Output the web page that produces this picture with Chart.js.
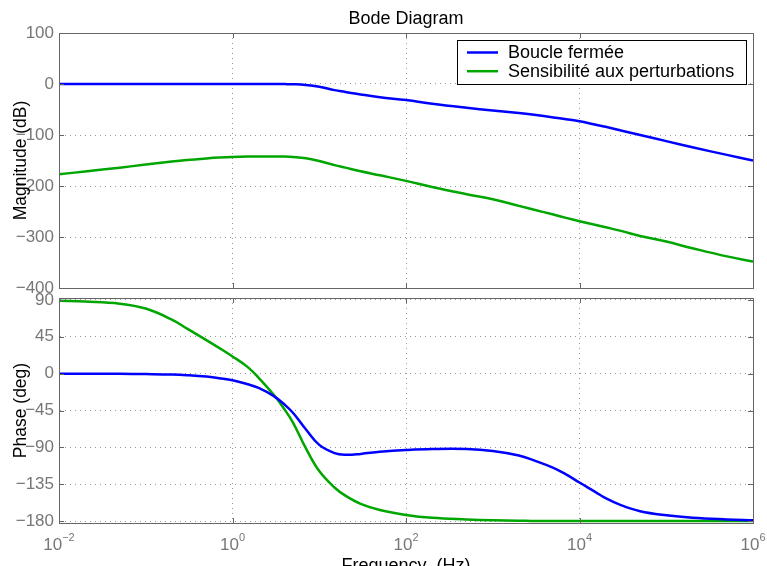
<!DOCTYPE html>
<html>
<head>
<meta charset="utf-8">
<script src="https://cdn.jsdelivr.net/npm/chart.js@4.4.0/dist/chart.umd.min.js"></script>
<style>
  body { margin: 0; background: #fff; }
  #wrap { position: relative; width: 767px; height: 566px; overflow: hidden; }
  canvas { position: absolute; left: 0; top: 0; }
</style>
</head>
<body>
<div id="wrap">
  <canvas id="magChart" width="767" height="566"></canvas>
  <canvas id="phaseChart" width="767" height="566"></canvas>
</div>
<script>
const freq = [0.01, 0.02, 0.05, 0.1, 0.2, 0.3, 0.5, 0.7, 1, 1.5, 2, 3, 4, 5, 7, 10, 15, 20, 30, 50,
  100, 200, 500, 1000, 2000, 3000, 5000, 7000, 1e4, 1.5e4, 2e4, 3e4, 5e4, 1e5, 2e5, 5e5, 1e6];
const magBoucle = [0, 0, 0, 0, 0, 0, 0, 0, 0, 0, 0, 0, -0.2, -0.5, -2, -5.5, -12, -15.5, -20.5, -26,
  -31.4, -38.5, -46.5, -52, -57, -60.5, -65.5, -69, -73, -79.5, -84, -91, -100, -112, -124, -139, -150];
const magSensib = [-177, -171.5, -164, -158, -152, -149, -146, -144.3, -143, -142.2, -142, -142, -142.2, -143, -145.5, -151, -159, -164, -171, -179,
  -190, -202, -216, -226, -239, -246.5, -256, -262.5, -269, -276, -281, -288, -298, -309, -322, -338, -348];
const phaseBoucle = [0, 0, -0.2, -0.5, -1, -1.8, -3.5, -5.5, -8, -13, -17.5, -27.5, -38, -48, -68, -87, -97, -99, -98, -95.5,
  -93.3, -92, -92, -94.5, -100, -106, -115, -123, -133, -144, -152, -160.5, -168, -173, -176, -178, -179];
const phaseSensib = [89, 88, 85.5, 79.5, 66, 55, 41, 31.5, 21, 8, -5, -26, -44, -60, -91, -119, -139, -149, -159, -166.5,
  -172.5, -176, -178, -179, -179.5, -180, -180, -180, -180, -180, -180, -180, -180, -180, -180, -180, -180];
const freqTicks = [1e-2, 1e0, 1e2, 1e4, 1e6];
const magTicks = [100, 0, -100, -200, -300, -400];
const phaseTicks = [90, 45, 0, -45, -90, -135, -180];
const seriesLabels = ['Boucle fermée', 'Sensibilité aux perturbations'];
const seriesColors = ['#0000ff', '#00a600'];

const FONT = '"Liberation Sans", Arial, Helvetica, sans-serif';
const AXIS_COLOR = '#666';

function pts(ys) {
  return freq.map((f, i) => ({x: f, y: ys[i]}));
}
function minus(v) {
  return v < 0 ? '\u2212' + Math.abs(v) : '' + v;
}
function makeDataset(i, ys) {
  return {
    label: seriesLabels[i],
    data: pts(ys),
    borderColor: seriesColors[i],
    borderWidth: 2.5,
    pointRadius: 0,
    fill: false,
    tension: 0.4
  };
}

// box, inner tick marks and texts drawn on top of each panel
const framePlugin = {
  id: 'frame',
  afterDraw(chart, args, opts) {
    const c = chart.ctx;
    const a = chart.chartArea;
    const xs = chart.scales.x, ys = chart.scales.y;
    c.save();
    c.strokeStyle = AXIS_COLOR;
    c.lineWidth = 1;
    c.strokeRect(Math.round(a.left) + 0.5, Math.round(a.top) + 0.5,
      Math.round(a.right - a.left), Math.round(a.bottom - a.top));
    c.beginPath();
    xs.ticks.forEach(t => {
      const px = Math.round(xs.getPixelForValue(t.value)) + 0.5;
      c.moveTo(px, a.bottom); c.lineTo(px, a.bottom - 5);
      c.moveTo(px, a.top); c.lineTo(px, a.top + 5);
    });
    ys.ticks.forEach(t => {
      const py = Math.round(ys.getPixelForValue(t.value)) + 0.5;
      c.moveTo(a.left, py); c.lineTo(a.left + 5, py);
      c.moveTo(a.right, py); c.lineTo(a.right - 5, py);
    });
    c.stroke();

    // y axis title
    c.fillStyle = '#000';
    c.font = '17.5px ' + FONT;
    c.textAlign = 'center';
    c.textBaseline = 'middle';
    c.save();
    c.translate(21, (a.top + a.bottom) / 2);
    c.rotate(-Math.PI / 2);
    c.fillText(opts.yTitle, 0, 0);
    c.restore();

    if (opts.title) {
      c.font = '18px ' + FONT;
      c.textBaseline = 'alphabetic';
      c.fillText(opts.title, (a.left + a.right) / 2, 24);
    }

    if (opts.legend) {
      const lx = 457.5, ly = 40.5, lw = 289, lh = 44;
      c.fillStyle = '#fff';
      c.fillRect(lx, ly, lw, lh);
      c.strokeStyle = '#000';
      c.strokeRect(lx, ly, lw, lh);
      chart.data.datasets.forEach((d, i) => {
        const yy = 52.5 + i * 18.7;
        c.strokeStyle = d.borderColor;
        c.lineWidth = 2.5;
        c.beginPath();
        c.moveTo(467, yy); c.lineTo(498, yy);
        c.stroke();
        c.fillStyle = '#000';
        c.font = '18px ' + FONT;
        c.textAlign = 'left';
        c.textBaseline = 'middle';
        c.fillText(d.label, 508, yy + 1);
      });
    }

    if (opts.xLabels) {
      c.fillStyle = '#777';
      c.textBaseline = 'alphabetic';
      c.textAlign = 'left';
      xs.ticks.forEach(t => {
        const px = xs.getPixelForValue(t.value);
        const e = Math.round(Math.log10(t.value));
        const sup = e < 0 ? '\u2212' + Math.abs(e) : '' + e;
        c.font = '17px ' + FONT;
        const wb = c.measureText('10').width;
        c.font = '11px ' + FONT;
        const ws = c.measureText(sup).width;
        const x0 = px - (wb + ws) / 2;
        c.font = '17px ' + FONT;
        c.fillText('10', x0, 550);
        c.font = '11px ' + FONT;
        c.fillText(sup, x0 + wb, 541);
      });
      c.fillStyle = '#000';
      c.font = '18px ' + FONT;
      c.textAlign = 'center';
      c.fillText('Frequency  (Hz)', (a.left + a.right) / 2, 571);
    }
    c.restore();
  }
};

function xScale() {
  return {
    type: 'logarithmic',
    min: 1e-2,
    max: 1e6,
    afterBuildTicks: s => { s.ticks = freqTicks.map(v => ({value: v})); },
    afterFit: s => { s.height = 0; },
    ticks: {display: false},
    grid: {color: '#999', drawTicks: false},
    border: {color: AXIS_COLOR, dash: [1, 4]}
  };
}
function yScale(min, max, tickVals) {
  return {
    min: min,
    max: max,
    afterBuildTicks: s => { s.ticks = tickVals.map(v => ({value: v})); },
    afterFit: s => { s.width = 59; },
    ticks: {
      color: '#777',
      padding: 5,
      font: {family: FONT, size: 17},
      callback: v => minus(v)
    },
    grid: {color: '#999', drawTicks: false},
    border: {color: AXIS_COLOR, dash: [1, 4]}
  };
}

const commonPlugins = {legend: {display: false}, tooltip: {enabled: false}};

new Chart(document.getElementById('magChart'), {
  type: 'line',
  data: {datasets: [makeDataset(0, magBoucle), makeDataset(1, magSensib)]},
  options: {
    responsive: false,
    animation: false,
    devicePixelRatio: 1,
    layout: {padding: {left: 0, right: 14, top: 33, bottom: 278}},
    scales: {x: xScale(), y: yScale(-400, 100, magTicks)},
    plugins: Object.assign({}, commonPlugins, {
      frame: {yTitle: 'Magnitude (dB)', title: 'Bode Diagram', legend: true}
    })
  },
  plugins: [framePlugin]
});

new Chart(document.getElementById('phaseChart'), {
  type: 'line',
  data: {datasets: [makeDataset(0, phaseBoucle), makeDataset(1, phaseSensib)]},
  options: {
    responsive: false,
    animation: false,
    devicePixelRatio: 1,
    layout: {padding: {left: 0, right: 14, top: 298, bottom: 43}},
    scales: {x: xScale(), y: yScale(-182.4, 92.4, phaseTicks)},
    plugins: Object.assign({}, commonPlugins, {
      frame: {yTitle: 'Phase (deg)', xLabels: true}
    })
  },
  plugins: [framePlugin]
});
</script>
</body>
</html>
